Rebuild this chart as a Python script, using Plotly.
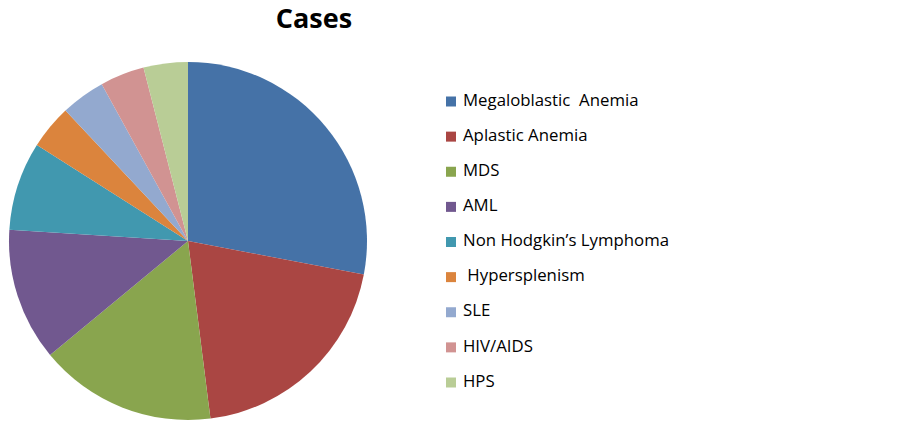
import plotly.graph_objects as go

# Cases by diagnosis (total 25)
labels = ["Megaloblastic\u00a0\u00a0Anemia", "Aplastic Anemia", "MDS", "AML",
          "Non Hodgkin\u2019s Lymphoma", "\u00a0Hypersplenism", "SLE", "HIV/AIDS", "HPS"]
cases = [7, 5, 4, 3, 2, 1, 1, 1, 1]
colors = ["#4572A7", "#AA4643", "#89A54E", "#71588F", "#4198AF",
          "#DB843D", "#93A9CF", "#D19392", "#B9CD96"]

font_family = "'Open Sans', 'Noto Sans', sans-serif"

fig = go.Figure()

fig.add_trace(go.Pie(
    labels=labels,
    values=cases,
    marker=dict(colors=colors, line=dict(width=0)),
    sort=False,
    direction="clockwise",
    rotation=0,
    textinfo="none",
    hoverinfo="label+value+percent",
    showlegend=False,
    domain=dict(x=[9/902, 367/902], y=[3/423, 361/423]),
))

# legend drawn as a column of square markers with labels
rows = list(range(len(labels)))
fig.add_trace(go.Scatter(
    x=[0] * len(labels),
    y=rows,
    mode="markers",
    marker=dict(symbol="square", size=10, color=colors),
    hoverinfo="skip",
    showlegend=False,
))
fig.add_trace(go.Scatter(
    x=[12] * len(labels),
    y=rows,
    mode="text",
    text=labels,
    textposition="middle right",
    textfont=dict(family=font_family, size=16.8, color="#000000"),
    hoverinfo="skip",
    showlegend=False,
))

fig.update_layout(
    width=902,
    height=423,
    margin=dict(l=0, r=0, t=0, b=0),
    paper_bgcolor="white",
    plot_bgcolor="white",
    title=dict(
        text="<b>Cases</b>",
        x=314/902,
        xanchor="center",
        y=1 - 19/423,
        yanchor="middle",
        font=dict(family=font_family, size=27, color="#000000"),
    ),
    xaxis=dict(range=[-451, 451], visible=False, fixedrange=True),
    yaxis=dict(range=[8 + 40.5/35.125, -101.5/35.125], visible=False, fixedrange=True),
    showlegend=False,
)

fig.write_html("out.html", config={"displayModeBar": False},
               post_script="document.body.style.margin='0';")
